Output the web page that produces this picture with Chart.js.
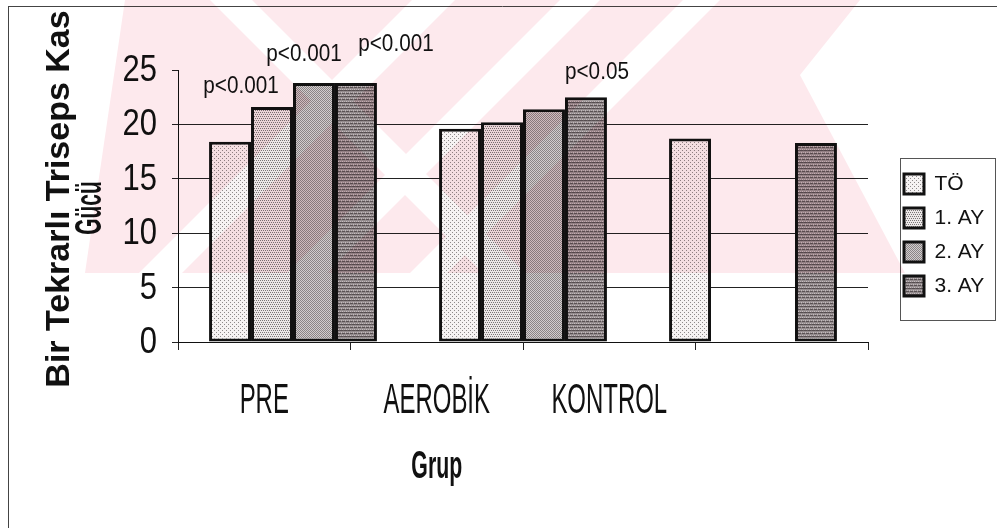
<!DOCTYPE html>
<html>
<head>
<meta charset="utf-8">
<script src="https://cdn.jsdelivr.net/npm/chart.js@4.4.1/dist/chart.umd.min.js"></script>
<style>
  html, body { margin: 0; padding: 0; background: #fff; }
  #wrap { width: 997px; height: 528px; position: relative; }
</style>
</head>
<body>
<div id="wrap"><canvas id="c" width="997" height="528"></canvas></div>
<script>
// Groups on the category axis and the labels printed under it
const groups = ['PRE', 'AEROBİK', 'KONTROL'];
const axisLabels = ['PRE', 'AEROBİK', 'KONTROL', ''];
const seriesNames = ['TÖ', '1. AY', '2. AY', '3. AY'];

// One-repetition triceps strength per group
const valuesTO  = [18.4, 19.6, 18.7];
const values1AY = [21.6, 20.2, null];
const values2AY = [23.8, 21.4, null];
const values3AY = [23.8, 22.5, 18.3];

// Significance notes written over the bars (per series, per group)
const sigTO  = ['', '', ''];
const sig1AY = ['p<0.001', '', ''];
const sig2AY = ['p<0.001', '', ''];
const sig3AY = ['p<0.001', 'p<0.05', ''];

const yTicks = [0, 5, 10, 15, 20, 25];
const yTitle = ['Bir Tekrarlı Triseps Kas', 'Gücü'];

const SANS = "'Liberation Sans', Arial, sans-serif";
const INK = '#111';

// Small stipple tiles used as bar fills
function tile(w, h, bg, dots) {
  const c = document.createElement('canvas');
  c.width = w; c.height = h;
  const g = c.getContext('2d');
  g.fillStyle = bg; g.fillRect(0, 0, w, h);
  dots.forEach(([x, y, col]) => { g.fillStyle = col; g.fillRect(x, y, 1, 1); });
  return g.createPattern(c, 'repeat');
}
const fillTO = tile(4, 4, '#f6f3f3', [[0,0,'#8e8a8a'],[2,2,'#8e8a8a']]);
const fill1AY = tile(4, 4, '#ece8e8', [[0,0,'#7a7676'],[2,0,'#7a7676'],[1,2,'#7a7676'],[3,2,'#7a7676']]);
const fill2AY = tile(4, 4, '#d2cdce', [[0,0,'#8a8586'],[2,0,'#8a8586'],[1,1,'#8a8586'],[3,1,'#8a8586'],[0,2,'#8a8586'],[2,2,'#8a8586'],[1,3,'#8a8586'],[3,3,'#8a8586']]);
const fill3AY = tile(4, 6, '#948c8e', [
  [0,0,'#564e50'],[1,0,'#564e50'],[2,0,'#564e50'],[3,0,'#665e60'],
  [1,2,'#c4bcbe'],[3,2,'#b8b0b2'],
  [0,3,'#5a5254'],[2,3,'#5a5254'],[3,3,'#5a5254'],
  [0,5,'#bcb4b6'],[2,5,'#c8c0c2']
]);

function series(label, data, fill) {
  return {
    label, data,
    backgroundColor: fill,
    borderColor: INK,
    borderWidth: 3,
    borderSkipped: false,
    categoryPercentage: 0.73,
    barPercentage: 1,
    xAxisID: 'x', yAxisID: 'y'
  };
}

const sigBySeries = [sigTO, sig1AY, sig2AY, sig3AY];
// Offsets of each note from the top-centre of its bar (dx, dy)
const SIG_SHIFT = { '1-0': [-31, -20], '2-0': [-10, -28], '3-0': [40, -38], '3-1': [11, -25] };

// Text drawn with a horizontal squeeze (optionally rotated)
function squash(ctx, text, x, y, font, sx, align, baseline, rot) {
  ctx.save();
  ctx.font = font;
  ctx.fillStyle = INK;
  ctx.textAlign = align;
  ctx.textBaseline = baseline;
  ctx.translate(x, y);
  if (rot) ctx.rotate(rot);
  ctx.scale(sx, 1);
  ctx.fillText(text, 0, 0);
  ctx.restore();
}

// Pale thesis-centre watermark laid over the figure
function drawWatermark(chart) {
  const off = document.createElement('canvas');
  off.width = chart.width; off.height = chart.height;
  const g = off.getContext('2d');
  const poly = (pts) => { g.beginPath(); pts.forEach(([x, y], i) => i ? g.lineTo(x, y) : g.moveTo(x, y)); g.closePath(); g.fill(); };
  g.fillStyle = 'rgb(253,233,237)';
  poly([[125,0],[880,0],[905,273],[85,273]]);
  g.globalCompositeOperation = 'destination-out';
  g.fillStyle = '#000';
  poly([[210,0],[252,0],[525,273],[483,273]]);
  poly([[412,0],[455,0],[182,273],[139,273]]);
  poly([[560,0],[600,0],[327,273],[287,273]]);
  poly([[683,0],[720,0],[447,273],[410,273]]);
  poly([[860,0],[1000,0],[1000,273],[905,273],[800,75]]);
  const ctx = chart.ctx;
  ctx.save();
  ctx.globalCompositeOperation = 'multiply';
  ctx.drawImage(off, 0, 0);
  ctx.restore();
}

const LEGEND_W = 129;
const decor = {
  id: 'decor',
  beforeLayout(chart) {
    const lg = chart.legend;
    if (lg && !lg._fixedWidth) {
      const fit = lg.fit;
      lg.fit = function () { fit.call(this); this.width = LEGEND_W; };
      lg._fixedWidth = true;
    }
  },
  afterLayout(chart) {
    const lg = chart.legend;
    lg.left = 891; lg.right = 996; lg.width = lg.right - lg.left;
    lg.top = 150; lg.bottom = 320; lg.height = lg.bottom - lg.top;
  },
  afterDatasetsDraw(chart) {
    const ctx = chart.ctx;
    sigBySeries.forEach((arr, s) => {
      const meta = chart.getDatasetMeta(s);
      arr.forEach((txt, i) => {
        if (!txt) return;
        const bar = meta.data[i];
        const [dx, dy] = SIG_SHIFT[s + '-' + i] || [0, -20];
        squash(ctx, txt, bar.x + dx, bar.y + dy, '23px ' + SANS, 0.9, 'center', 'middle');
      });
    });
  },
  afterDraw(chart) {
    const ctx = chart.ctx;
    const x2 = chart.scales.x2;
    const y = chart.scales.y;
    const area = chart.chartArea;
    const base = area.bottom;
    const midY = (area.top + area.bottom) / 2;

    // axis title, two lines rotated
    squash(ctx, yTitle[0], 60, midY - 7, 'bold 34px ' + SANS, 1, 'center', 'middle', -Math.PI / 2);
    squash(ctx, yTitle[1], 91, midY + 2, 'bold 36px ' + SANS, 0.58, 'center', 'middle', -Math.PI / 2);

    // value labels on the y axis, narrow set
    y.ticks.forEach((t) => {
      squash(ctx, String(t.value), y.right - 21, y.getPixelForValue(t.value) + 1, '36px ' + SANS, 0.86, 'right', 'middle');
    });

    // category names, set tight as in the printed figure
    const xs = [];
    axisLabels.forEach((lab, i) => {
      if (!lab) return;
      const x = x2.getPixelForTick(i);
      xs.push(x);
      squash(ctx, lab, x, base + 71, '42px ' + SANS, 0.57, 'center', 'alphabetic');
    });
    const mid = xs.reduce((a, b) => a + b, 0) / xs.length;
    squash(ctx, 'Grup', mid, base + 136, 'bold 38px ' + SANS, 0.56, 'center', 'alphabetic');

    // legend frame
    ctx.save();
    ctx.strokeStyle = '#555';
    ctx.lineWidth = 1;
    ctx.strokeRect(900.5, 158.5, 95, 162);
    // outer frame (top and left edges)
    ctx.strokeStyle = '#444';
    ctx.beginPath();
    ctx.moveTo(8, 6.5); ctx.lineTo(997, 6.5);
    ctx.moveTo(8.5, 6); ctx.lineTo(8.5, 528);
    ctx.stroke();
    ctx.restore();

    drawWatermark(chart);
  }
};

new Chart(document.getElementById('c'), {
  type: 'bar',
  data: {
    labels: groups,
    datasets: [
      series(seriesNames[0], valuesTO, fillTO),
      series(seriesNames[1], values1AY, fill1AY),
      series(seriesNames[2], values2AY, fill2AY),
      series(seriesNames[3], values3AY, fill3AY)
    ]
  },
  options: {
    responsive: false,
    animation: false,
    devicePixelRatio: 1,
    layout: { padding: { top: 70, left: 0, right: 0, bottom: 0 } },
    plugins: {
      legend: {
        position: 'right',
        align: 'center',
        labels: {
          boxWidth: 20, boxHeight: 20, padding: 13,
          color: INK,
          font: { family: SANS, size: 21 }
        }
      },
      tooltip: { enabled: false }
    },
    scales: {
      x: { type: 'category', display: false, offset: true },
      x2: {
        type: 'category', labels: axisLabels, position: 'bottom', offset: true,
        grid: { offset: true, drawOnChartArea: false, tickLength: 8, color: '#222', lineWidth: 1 },
        border: { display: true, color: INK, width: 1 },
        ticks: { display: false },
        afterFit(s) { s.height = 186; }
      },
      y: {
        min: 0, max: 25, position: 'left',
        afterBuildTicks(s) { s.ticks = yTicks.map(v => ({ value: v })); },
        grid: {
          color: (c) => (c.tick && c.tick.value === 25) ? 'rgba(0,0,0,0)' : '#222',
          tickColor: '#222', tickLength: 6, lineWidth: 1
        },
        border: { color: INK, width: 1 },
        ticks: { display: false },
        title: { display: false },
        afterFit(s) { s.width = 178; }
      }
    }
  },
  plugins: [decor]
});
</script>
</body>
</html>
